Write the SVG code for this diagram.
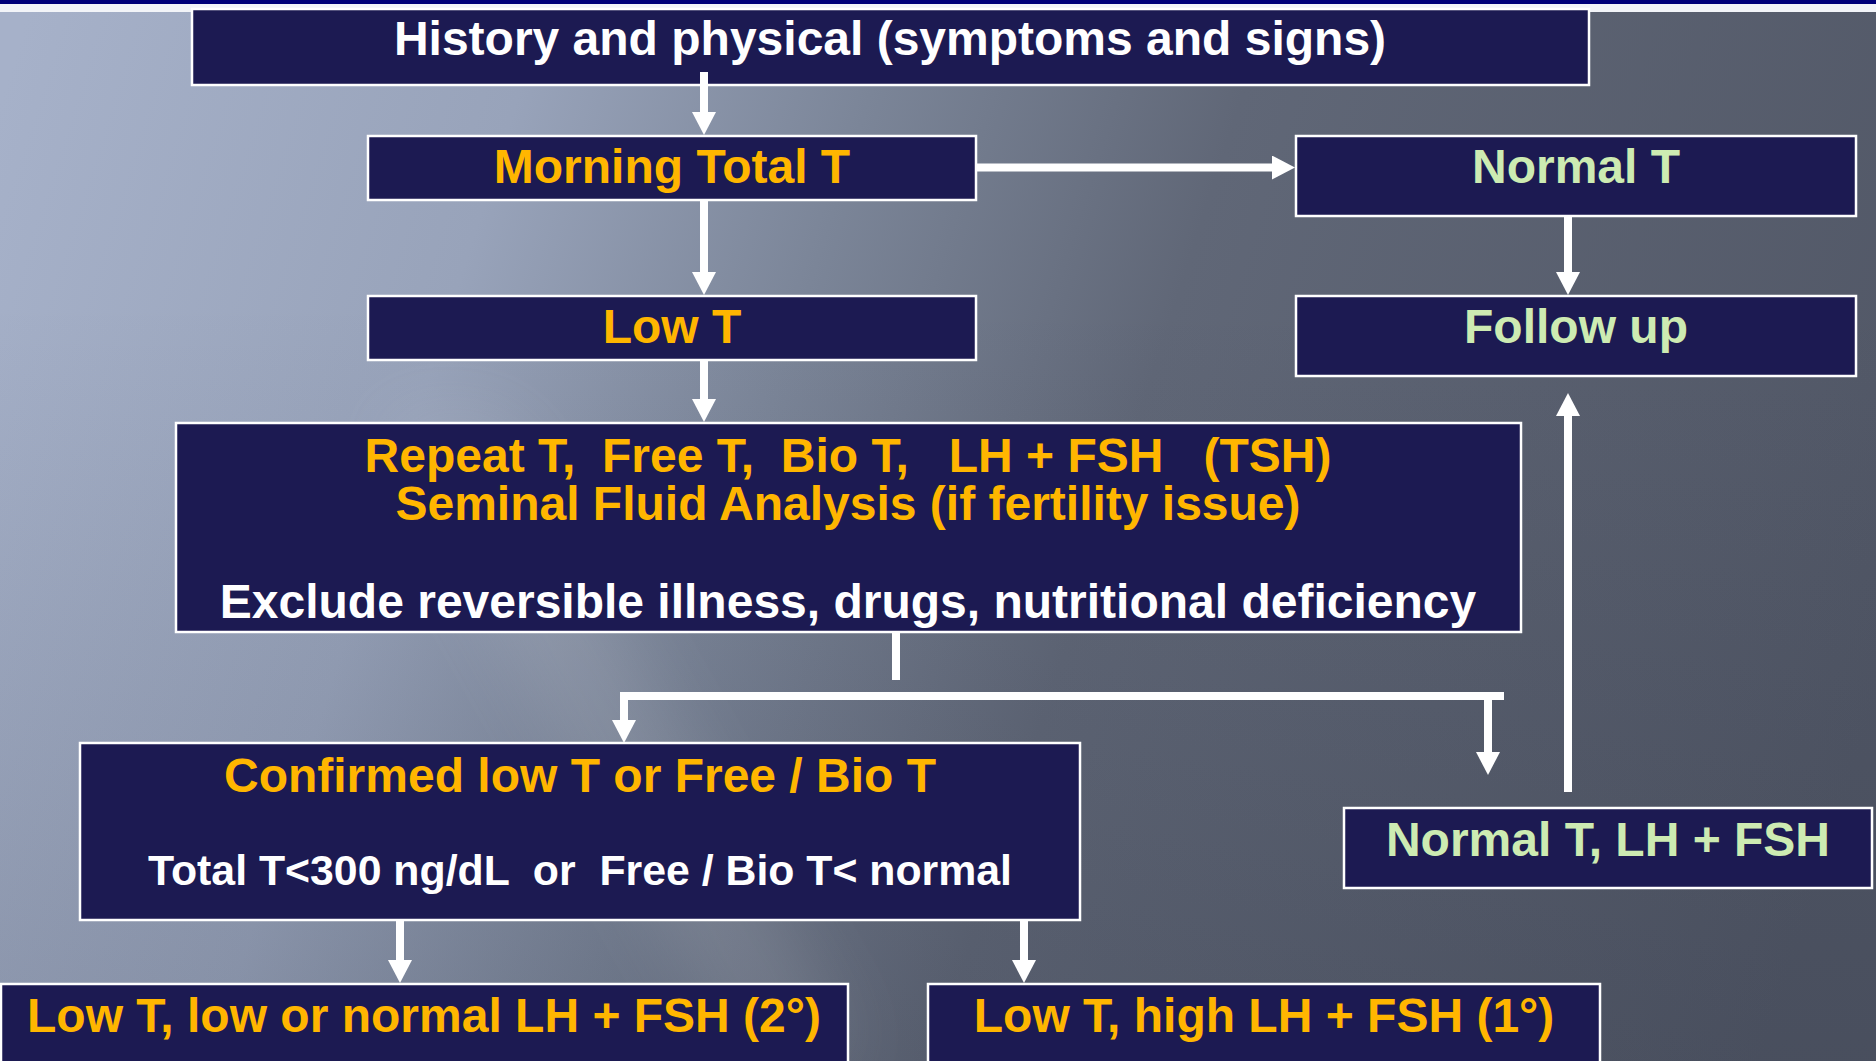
<svg xmlns="http://www.w3.org/2000/svg" width="1876" height="1061" viewBox="0 0 1876 1061">
<defs>
<linearGradient id="bg" gradientUnits="userSpaceOnUse" x1="0" y1="100" x2="1876" y2="700">
<stop offset="0" stop-color="#A6B1C9"/>
<stop offset="0.25" stop-color="#98A3BA"/>
<stop offset="0.42" stop-color="#7B8598"/>
<stop offset="0.6" stop-color="#606777"/>
<stop offset="1" stop-color="#515766"/>
</linearGradient>
<linearGradient id="shade" gradientUnits="userSpaceOnUse" x1="0" y1="300" x2="0" y2="1061">
<stop offset="0" stop-color="#1a2030" stop-opacity="0"/>
<stop offset="1" stop-color="#1a2030" stop-opacity="0.15"/>
</linearGradient>
<filter id="blur" x="-50%" y="-50%" width="200%" height="200%"><feGaussianBlur stdDeviation="40"/></filter>
<marker id="ah" viewBox="0 0 23 24" refX="0" refY="12" markerWidth="23" markerHeight="24" markerUnits="userSpaceOnUse" orient="auto">
<path d="M0,0 L23,12 L0,24 Z" fill="#ffffff"/>
</marker>
<style>
.box{fill:#1C1A52;stroke:#ffffff;stroke-width:2.5}
.t{font-family:"Liberation Sans",Arial,sans-serif;font-weight:bold;font-size:48px;text-anchor:middle}
.w{fill:#ffffff}
.g{fill:#FFB600}
.n{fill:#CDEBB2}
.c{fill:none;stroke:#ffffff;stroke-width:8;stroke-linejoin:miter}
.a{marker-end:url(#ah)}
</style>
</defs>
<rect x="0" y="0" width="1876" height="1061" fill="url(#bg)"/>
<rect x="0" y="0" width="1876" height="1061" fill="url(#shade)"/>
<polygon points="380,420 500,420 860,1061 740,1061" fill="#ffffff" opacity="0.1" filter="url(#blur)"/>
<rect x="0" y="0" width="1876" height="4" fill="#000078"/>
<rect x="0" y="4" width="1876" height="8" fill="#F2F4F8"/>

<g id="n-history"><rect class="box" x="192" y="9" width="1397" height="76"/><text class="t w" x="890" y="55">History and physical (symptoms and signs)</text></g>
<g id="n-morning"><rect class="box" x="368" y="136" width="608" height="64"/><text class="t g" x="672" y="183">Morning Total T</text></g>
<g id="n-lowt"><rect class="box" x="368" y="296" width="608" height="64"/><text class="t g" x="672" y="343">Low T</text></g>
<g id="n-normalt"><rect class="box" x="1296" y="136" width="560" height="80"/><text class="t n" x="1576" y="183">Normal T</text></g>
<g id="n-followup"><rect class="box" x="1296" y="296" width="560" height="80"/><text class="t n" x="1576" y="343">Follow up</text></g>
<g id="n-repeat"><rect class="box" x="176" y="423" width="1345" height="209"/>
<text class="t g" x="848" y="472" xml:space="preserve">Repeat T,  Free T,  Bio T,   LH + FSH   (TSH)</text>
<text class="t g" x="848" y="520">Seminal Fluid Analysis (if fertility issue)</text>
<text class="t w" x="848" y="618">Exclude reversible illness, drugs, nutritional deficiency</text></g>
<g id="n-confirmed"><rect class="box" x="80" y="743" width="1000" height="177"/>
<text class="t g" x="580" y="792">Confirmed low T or Free / Bio T</text>
<text class="t w" x="580" y="885" style="font-size:42.8px" xml:space="preserve">Total T&lt;300 ng/dL  or  Free / Bio T&lt; normal</text></g>
<g id="n-normallh"><rect class="box" x="1344" y="808" width="528" height="80"/><text class="t n" x="1608" y="856">Normal T, LH + FSH</text></g>
<g id="n-secondary"><rect class="box" x="1" y="984" width="847" height="100"/><text class="t g" x="424" y="1032">Low T, low or normal LH + FSH (2°)</text></g>
<g id="n-primary"><rect class="box" x="928" y="984" width="672" height="100"/><text class="t g" x="1264" y="1032">Low T, high LH + FSH (1°)</text></g>

<g id="connectors">
<path class="c a" d="M704,72 V112"/>
<path class="c a" d="M704,200 V272"/>
<path class="c a" d="M976,167.5 H1272"/>
<path class="c a" d="M1568,216 V272"/>
<path class="c a" d="M704,360 V399"/>
<path class="c" d="M896,632 V680"/>
<path class="c a" d="M1504,696 H624 V720"/>
<path class="c a" d="M1488,696 V752"/>
<path class="c a" d="M1568,792 V416"/>
<path class="c a" d="M400,920 V960"/>
<path class="c a" d="M1024,920 V960"/>
</g>
</svg>
